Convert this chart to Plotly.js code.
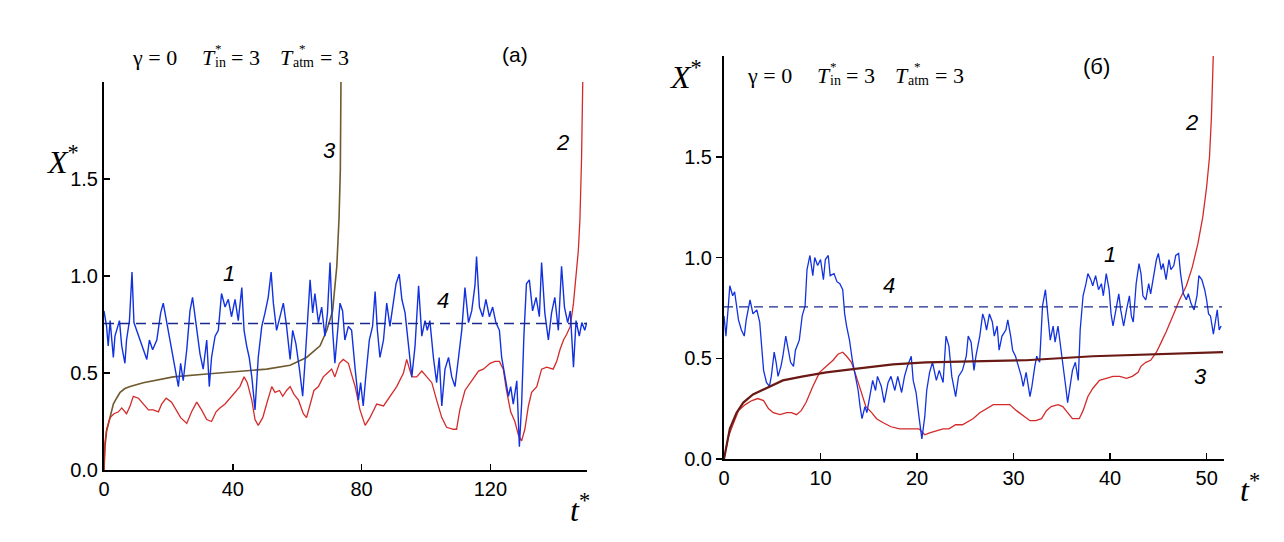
<!DOCTYPE html>
<html>
<head>
<meta charset="utf-8">
<script src="https://cdn.plot.ly/plotly-3.0.1.min.js"></script>
<style>
  body { margin: 0; background: #fff; }
  #chart { width: 1284px; height: 542px; }
</style>
</head>
<body>
<div id="chart"></div>
<script>
// panel (a): t* 0..150
const aBlueT = [0,0.8,1.3,1.9,2.9,3.4,4.8,5.5,6.5,7.0,7.9,8.7,9.3,10.1,11.2,12.2,13.3,14.1,15.1,16.4,17.6,18.4,19.5,20.5,22.0,23.1,23.8,24.6,25.7,26.7,27.5,28.6,29.8,30.8,31.9,32.7,33.4,34.5,35.5,36.5,37.6,38.6,39.6,40.7,41.7,42.8,43.5,44.3,45.1,45.9,46.9,47.9,49.0,50.0,51.0,51.9,52.6,53.6,54.7,55.7,56.7,57.8,58.6,59.6,60.7,61.7,62.4,63.5,64.0,64.8,65.5,66.6,67.6,68.6,69.4,70.2,71.0,71.7,72.5,73.3,74.1,74.8,75.9,76.9,78.0,79.0,79.7,80.5,81.4,82.4,83.4,84.2,84.9,85.7,86.8,87.8,88.8,89.9,90.7,91.7,92.5,93.5,94.6,95.6,96.6,97.7,98.7,99.7,100.4,101.2,102.3,103.3,104.1,104.9,105.9,107.0,108.0,109.0,110.1,111.1,112.1,113.2,114.2,115.2,115.7,116.6,117.6,118.6,119.7,120.7,121.7,122.8,123.5,124.6,125.6,126.3,127.1,128.2,129.0,129.7,130.4,131.2,132.1,133.1,134.2,135.2,135.9,136.9,138.0,139.0,140.0,141.1,142.1,143.0,144.0,144.8,145.8,146.6,147.6,148.4,149.3,149.9];
const aBlueX = [0.82,0.74,0.64,0.77,0.58,0.69,0.77,0.64,0.55,0.67,0.77,1.02,0.76,0.72,0.67,0.62,0.57,0.67,0.62,0.67,0.81,0.86,0.76,0.65,0.52,0.43,0.55,0.46,0.62,0.82,0.89,0.74,0.60,0.52,0.67,0.43,0.58,0.69,0.72,0.91,0.84,0.88,0.79,0.88,0.77,0.94,0.72,0.64,0.58,0.48,0.31,0.58,0.74,0.81,0.89,1.02,0.86,0.72,0.79,0.86,0.74,0.57,0.72,0.65,0.52,0.38,0.55,0.84,0.98,0.81,0.91,0.76,0.84,0.69,0.81,1.07,0.72,0.55,0.70,0.86,0.82,0.67,0.74,0.72,0.52,0.36,0.45,0.33,0.50,0.67,0.74,0.92,0.72,0.58,0.67,0.86,0.74,0.86,0.96,1.01,0.88,0.81,0.65,0.48,0.64,0.95,0.69,0.77,0.72,0.77,0.58,0.45,0.58,0.33,0.52,0.58,0.48,0.43,0.58,0.72,0.94,0.76,0.82,0.95,1.10,0.84,0.79,0.88,0.79,0.84,0.76,0.72,0.58,0.48,0.38,0.43,0.34,0.46,0.12,0.34,0.69,0.96,0.98,0.82,0.89,0.79,1.07,0.81,0.67,0.81,0.89,0.72,1.05,0.84,0.76,0.82,0.53,0.77,0.69,0.76,0.72,0.76];

const aRedT = [0,0.3,0.8,1.9,3.1,4.5,5.5,7.0,8.1,9.1,10.7,12.2,13.8,15.3,16.9,17.9,19.3,21.0,22.4,23.8,25.7,27.2,28.8,30.3,31.9,33.4,34.8,36.0,37.6,39.1,40.7,42.2,43.5,44.5,45.9,46.9,47.9,49.3,50.5,52.1,53.1,54.5,55.5,56.7,57.8,59.0,60.4,61.9,62.9,64.0,65.2,66.6,68.1,69.4,70.7,71.7,73.1,74.3,75.9,76.4,78.0,79.5,81.1,82.6,84.7,86.8,88.8,90.9,93.0,94.0,95.6,97.1,98.7,100.2,101.8,103.3,104.9,106.4,108.5,109.5,110.5,112.1,114.2,116.3,117.8,119.9,121.4,122.8,124.0,125.0,126.3,127.6,128.7,129.7,130.7,131.8,132.8,134.4,135.9,137.5,139.5,140.6,141.6,142.7,143.7,144.8,145.8,146.6,147.3,147.8,148.3,148.7];
const aRedX = [0,0.14,0.21,0.27,0.29,0.30,0.32,0.29,0.33,0.38,0.37,0.34,0.31,0.31,0.30,0.34,0.37,0.35,0.31,0.27,0.24,0.30,0.35,0.31,0.26,0.25,0.30,0.32,0.34,0.37,0.40,0.43,0.48,0.45,0.36,0.26,0.23,0.27,0.34,0.43,0.40,0.41,0.38,0.41,0.43,0.39,0.36,0.29,0.27,0.34,0.41,0.43,0.48,0.50,0.52,0.48,0.55,0.57,0.55,0.52,0.43,0.31,0.23,0.27,0.34,0.33,0.38,0.43,0.50,0.57,0.48,0.48,0.51,0.48,0.45,0.36,0.27,0.22,0.21,0.21,0.31,0.41,0.46,0.51,0.52,0.55,0.56,0.56,0.52,0.41,0.30,0.25,0.18,0.15,0.21,0.33,0.40,0.43,0.52,0.53,0.52,0.56,0.62,0.67,0.70,0.74,0.86,1.00,1.13,1.29,1.60,2.02];

const aBrownT = [0,0.3,0.8,1.9,2.9,3.9,5.0,6.5,8.1,12.2,21.5,31.9,42.2,50.5,57.8,62.9,67.1,69.2,71.0,72.3,73.0,73.4,73.6];
const aBrownX = [0,0.12,0.20,0.27,0.34,0.37,0.40,0.42,0.43,0.45,0.48,0.495,0.51,0.52,0.54,0.58,0.64,0.72,0.82,1.05,1.30,1.55,2.02];

const aLevelT = [0,150];
const aLevelX = [0.755,0.755];

// panel (б): t* 0..51.8
const bBlueT = [0,0.2,0.45,0.6,0.9,1.1,1.5,1.8,2.1,2.3,2.7,3.0,3.4,3.7,3.9,4.1,4.4,4.7,4.9,5.2,5.4,5.6,5.9,6.1,6.4,6.6,6.9,7.2,7.4,7.8,8.1,8.4,8.6,8.9,9.2,9.4,9.7,10.0,10.3,10.5,10.8,11.0,11.4,11.7,12.0,12.3,12.5,12.7,13.0,13.3,13.6,13.9,14.1,14.3,14.6,14.8,15.1,15.4,15.7,15.9,16.3,16.6,17.0,17.3,17.7,18.0,18.4,18.7,19.0,19.4,19.6,19.9,20.2,20.5,20.8,21.0,21.3,21.6,22.0,22.3,22.7,23.0,23.3,23.6,24.0,24.3,24.7,25.1,25.3,25.6,25.9,26.1,26.5,26.8,27.0,27.2,27.5,27.8,28.0,28.3,28.5,28.8,29.2,29.4,29.7,29.9,30.2,30.5,30.8,31.0,31.3,31.7,31.9,32.2,32.4,32.7,33.0,33.3,33.6,33.8,34.1,34.3,34.6,34.8,35.1,35.4,35.6,35.9,36.1,36.4,36.7,36.9,37.2,37.5,37.7,38.0,38.2,38.5,38.8,39.1,39.3,39.6,39.9,40.1,40.3,40.6,40.9,41.1,41.4,41.7,42.0,42.2,42.4,42.7,43.0,43.2,43.4,43.7,44.0,44.2,44.5,44.8,45.0,45.3,45.5,45.8,46.1,46.3,46.6,46.8,47.1,47.3,47.6,47.9,48.1,48.4,48.7,49.0,49.2,49.5,49.8,50.0,50.2,50.4,50.7,50.9,51.1,51.3,51.5];
const bBlueX = [0.71,0.61,0.76,0.86,0.81,0.83,0.69,0.64,0.61,0.69,0.79,0.72,0.74,0.68,0.56,0.44,0.38,0.36,0.41,0.53,0.48,0.41,0.46,0.51,0.61,0.56,0.48,0.46,0.54,0.59,0.71,0.76,0.94,1.01,0.91,1.00,0.96,0.99,0.89,0.99,1.01,0.91,0.92,0.88,0.87,0.84,0.72,0.66,0.59,0.49,0.41,0.34,0.26,0.20,0.26,0.23,0.31,0.39,0.34,0.41,0.36,0.28,0.38,0.41,0.34,0.41,0.33,0.41,0.46,0.51,0.39,0.33,0.21,0.10,0.21,0.34,0.43,0.48,0.39,0.44,0.38,0.61,0.56,0.41,0.31,0.41,0.44,0.51,0.61,0.58,0.44,0.51,0.61,0.72,0.69,0.64,0.72,0.68,0.61,0.66,0.54,0.61,0.64,0.69,0.61,0.54,0.51,0.46,0.41,0.36,0.43,0.31,0.36,0.46,0.51,0.48,0.76,0.84,0.71,0.59,0.66,0.58,0.66,0.59,0.49,0.36,0.28,0.38,0.44,0.48,0.39,0.64,0.81,0.87,0.92,0.89,0.86,0.91,0.84,0.87,0.81,0.92,0.84,0.72,0.66,0.74,0.82,0.74,0.66,0.74,0.81,0.71,0.68,0.87,0.97,0.92,0.81,0.79,0.87,0.82,0.91,0.99,1.02,0.94,0.97,0.89,0.99,0.94,0.96,1.01,1.02,0.92,0.82,0.79,0.82,0.77,0.74,0.81,0.91,0.89,0.84,0.79,0.72,0.71,0.62,0.68,0.74,0.64,0.66];

const bRedT = [0,0.45,1.0,1.5,2.2,2.9,3.5,4.1,4.6,5.1,5.8,6.5,7.0,7.5,8.0,8.5,9.2,9.9,10.6,11.3,11.8,12.3,12.7,13.2,13.7,14.2,14.7,15.3,15.8,16.5,17.3,18.2,19.0,19.7,20.2,20.8,21.3,22.0,22.7,23.3,24.0,24.7,25.1,25.8,26.5,27.2,27.9,28.9,29.6,30.3,30.9,31.7,32.3,32.9,33.4,33.9,34.6,35.1,35.6,36.1,36.8,37.2,37.7,38.2,38.9,39.6,40.3,41.0,41.7,42.3,42.9,43.2,43.7,44.2,44.8,45.3,45.8,46.5,47.2,47.9,48.5,49.1,49.6,50.0,50.3,50.5,50.7];
const bRedX = [0,0.11,0.18,0.24,0.27,0.29,0.30,0.29,0.25,0.23,0.22,0.23,0.23,0.22,0.24,0.28,0.36,0.43,0.46,0.49,0.52,0.53,0.51,0.48,0.41,0.33,0.26,0.23,0.20,0.18,0.16,0.15,0.15,0.15,0.15,0.12,0.13,0.14,0.15,0.15,0.17,0.17,0.18,0.20,0.23,0.25,0.27,0.27,0.27,0.24,0.22,0.19,0.19,0.20,0.24,0.26,0.27,0.26,0.23,0.20,0.20,0.24,0.31,0.35,0.39,0.40,0.41,0.41,0.40,0.41,0.43,0.46,0.48,0.49,0.53,0.58,0.63,0.71,0.79,0.86,0.95,1.07,1.20,1.35,1.50,1.70,2.02];

const bBrownT = [0,0.6,1.3,2.0,3.0,4.4,6.1,8.2,10.6,14.0,17.5,20.9,25.3,31.3,38.2,45.0,51.7];
const bBrownX = [0,0.15,0.23,0.28,0.32,0.35,0.39,0.41,0.43,0.45,0.47,0.48,0.485,0.49,0.51,0.52,0.53];

const bLevelT = [0,51.6];
const bLevelX = [0.755,0.755];

const W = 1284, H = 542;
const px = x => x / W;
const py = y => 1 - y / H;

function line(t, x, color, width, axis, dash){
  return {
    x: t, y: x,
    xaxis: 'x' + axis, yaxis: 'y' + axis,
    mode: 'lines', type: 'scatter',
    line: {color: color, width: width, dash: dash || 'solid'},
    hoverinfo: 'skip', showlegend: false
  };
}

const data = [
  line(aBrownT, aBrownX, '#6e5a2e', 1.6, ''),
  line(aRedT, aRedX, '#d42a2a', 1.3, ''),
  line(aBlueT, aBlueX, '#1232e0', 1.4, ''),
  line(aLevelT, aLevelX, '#1a2a8a', 1.6, '', '10px,6px'),
  line(bRedT, bRedX, '#d42a2a', 1.3, '2'),
  line(bBlueT, bBlueX, '#1232e0', 1.3, '2'),
  line(bBrownT, bBrownX, '#6a1a14', 2.2, '2'),
  line(bLevelT, bLevelX, '#1a2a8a', 1.1, '2', '9px,6px')
];

const tickFont = {family: 'Liberation Sans, Arial', size: 20, color: '#000'};

function axis(domain, range, vals, text, anchor, ticks){
  return {
    domain: domain, range: range, anchor: anchor,
    tickmode: 'array', tickvals: vals, ticktext: text,
    ticks: ticks, ticklen: 6, tickwidth: 1.5, tickcolor: '#000',
    showline: true, linecolor: '#000', linewidth: 2,
    showgrid: false, zeroline: false, fixedrange: true,
    tickfont: tickFont
  };
}

const yVals = [0, 0.5, 1.0, 1.5];
const yText = ['0.0', '0.5', '1.0', '1.5'];

const serif = 'Liberation Serif, Times New Roman';
const sans = 'Liberation Sans, Arial';

function note(x, y, text, size, family, anchor){
  return {
    xref: 'paper', yref: 'paper', x: px(x), y: py(y),
    text: text, showarrow: false,
    xanchor: anchor || 'center', yanchor: 'middle',
    font: {family: family, size: size, color: '#000'}
  };
}

function header(x0, y){
  // T with * stacked over its subscript, built from separate pieces
  return [
    note(x0, y, 'γ = 0', 22, serif, 'left'),
    note(x0 + 70, y, '<i>T</i>', 22, serif, 'left'),
    note(x0 + 83, y - 9, '*', 13, serif, 'left'),
    note(x0 + 83, y + 6, 'in', 14, serif, 'left'),
    note(x0 + 99, y, '= 3', 22, serif, 'left'),
    note(x0 + 148, y, '<i>T</i>', 22, serif, 'left'),
    note(x0 + 167, y - 9, '*', 13, serif, 'left'),
    note(x0 + 161, y + 6, 'atm', 14, serif, 'left'),
    note(x0 + 188, y, '= 3', 22, serif, 'left')
  ];
}

const annotations = [].concat(
  header(130, 57),
  header(745, 75),
  [
    note(515, 55, '(a)', 21, sans),
    note(1096, 66, '(б)', 22, sans),
    note(62, 160, '<i>X</i><sup>*</sup>', 32, serif),
    note(685, 75, '<i>X</i><sup>*</sup>', 32, serif),
    note(580, 508, '<i>t</i><sup>*</sup>', 32, serif),
    note(1250, 488, '<i>t</i><sup>*</sup>', 32, serif),
    note(229, 273, '<i>1</i>', 22, sans),
    note(443, 300, '<i>4</i>', 22, sans),
    note(329, 150, '<i>3</i>', 22, sans),
    note(562, 142, '<i>2</i>', 22, sans),
    note(889, 285, '<i>4</i>', 22, sans),
    note(1110, 255, '<i>1</i>', 22, sans),
    note(1200, 376, '<i>3</i>', 22, sans),
    note(1191, 122, '<i>2</i>', 22, sans)
  ]
);

const layout = {
  width: W, height: H,
  margin: {l: 0, r: 0, t: 0, b: 0},
  paper_bgcolor: '#fff',
  plot_bgcolor: '#fff',
  showlegend: false,
  xaxis: axis([px(104), px(587)], [0, 150], [0, 40, 80, 120], ['0', '40', '80', '120'], 'y', 'inside'),
  yaxis: axis([py(470), py(82)], [0, 2.0], yVals, yText, 'x', 'inside'),
  xaxis2: axis([px(724), px(1224)], [0, 51.8], [0, 10, 20, 30, 40, 50], ['0', '10', '20', '30', '40', '50'], 'y2', 'inside'),
  yaxis2: axis([py(459), py(56)], [0, 2.0], yVals, yText, 'x2', 'outside'),
  annotations: annotations
};

Plotly.newPlot('chart', data, layout, {displayModeBar: false, staticPlot: true});
</script>
</body>
</html>
